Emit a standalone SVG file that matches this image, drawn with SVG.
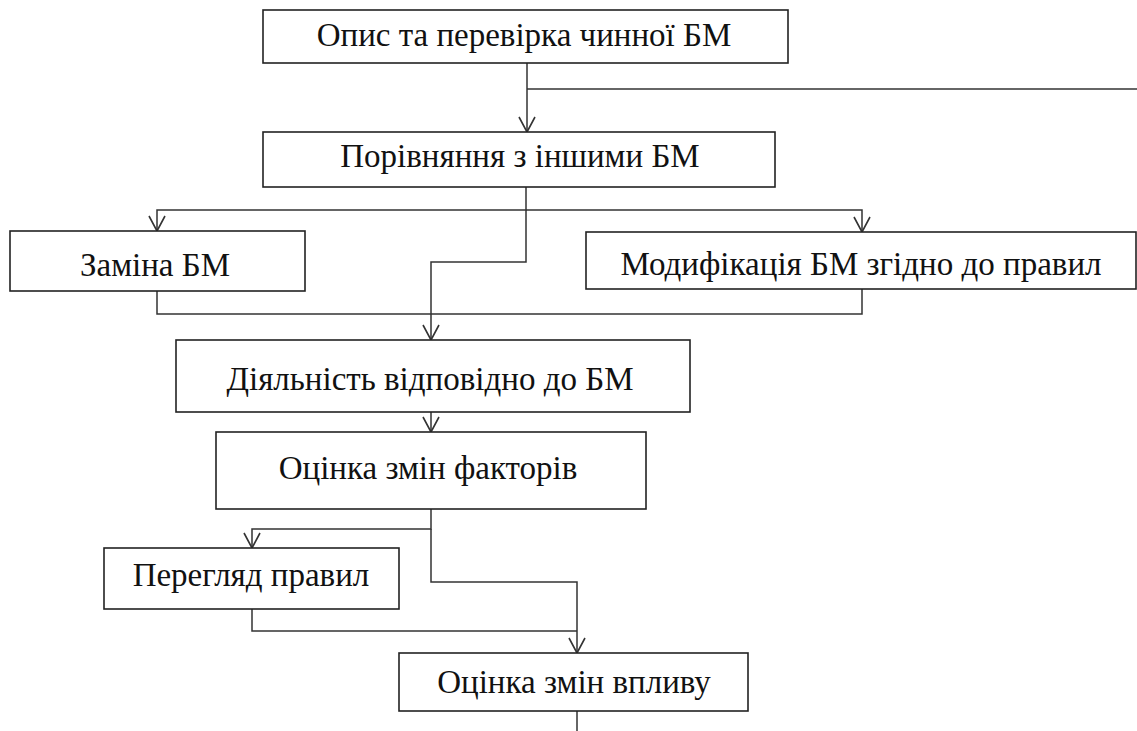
<svg xmlns="http://www.w3.org/2000/svg" width="1137" height="731" viewBox="0 0 1137 731">
<style>
.box{fill:#fff;stroke:#222;stroke-width:1.6}
.lbl{font-family:"Times New Roman","Liberation Serif","DejaVu Serif",serif;font-size:33px;fill:#111;text-anchor:middle}
.con{fill:none;stroke:#333;stroke-width:1.5}
</style>
<defs>
<marker id="ar" markerUnits="userSpaceOnUse" markerWidth="40" markerHeight="40" viewBox="-20 -20 40 40" refX="0" refY="0" orient="auto">
<path d="M-15,-8 L0,0 L-15,8" fill="none" stroke="#333" stroke-width="1.6"/>
</marker>
</defs>
<rect width="1137" height="731" fill="#fff"/>
<g id="connectors">
<path class="con" d="M527,63 V132" marker-end="url(#ar)"/>
<path class="con" d="M527,89 H1137"/>
<path class="con" d="M526,187 V210 H157 V231" marker-end="url(#ar)"/>
<path class="con" d="M526,210 H862 V232" marker-end="url(#ar)"/>
<path class="con" d="M526,210 V262 H431 V340" marker-end="url(#ar)"/>
<path class="con" d="M157,291 V314 H862 V289"/>
<path class="con" d="M431,412 V432" marker-end="url(#ar)"/>
<path class="con" d="M431,509 V529 H252 V548" marker-end="url(#ar)"/>
<path class="con" d="M431,529 V582 H577 V653" marker-end="url(#ar)"/>
<path class="con" d="M252,609 V631 H577"/>
<path class="con" d="M577,711 V731"/>
</g>
<g id="n1"><rect class="box" x="263" y="10" width="525" height="53"/><text class="lbl" x="524" y="46">Опис та перевірка чинної БМ</text></g>
<g id="n2"><rect class="box" x="263" y="132" width="512" height="55"/><text class="lbl" x="520" y="167">Порівняння з іншими БМ</text></g>
<g id="n3"><rect class="box" x="10" y="231" width="295" height="60"/><text class="lbl" x="155" y="276">Заміна БМ</text></g>
<g id="n4"><rect class="box" x="586" y="232" width="550" height="57"/><text class="lbl" x="861" y="275">Модифікація БМ згідно до правил</text></g>
<g id="n5"><rect class="box" x="176" y="340" width="514" height="72"/><text class="lbl" x="430" y="390">Діяльність відповідно до БМ</text></g>
<g id="n6"><rect class="box" x="216" y="432" width="430" height="77"/><text class="lbl" x="428" y="479">Оцінка змін факторів</text></g>
<g id="n7"><rect class="box" x="104" y="548" width="295" height="61"/><text class="lbl" x="251" y="586">Перегляд правил</text></g>
<g id="n8"><rect class="box" x="399" y="653" width="349" height="58"/><text class="lbl" x="574" y="693">Оцінка змін впливу</text></g>
</svg>
